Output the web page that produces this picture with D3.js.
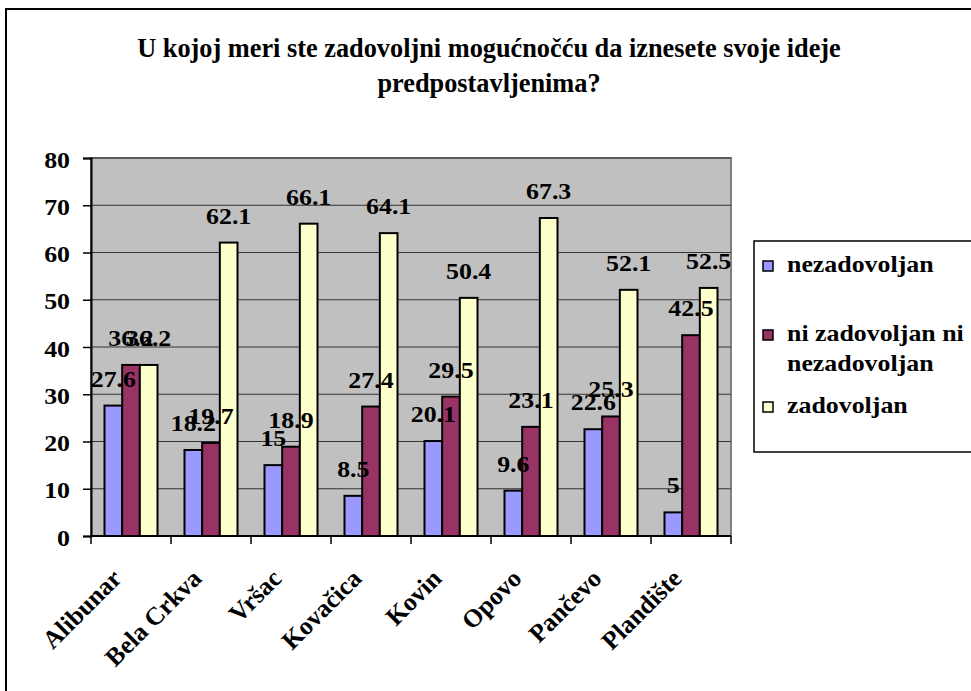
<!DOCTYPE html>
<html>
<head>
<meta charset="utf-8">
<script src="https://cdn.jsdelivr.net/npm/d3@7"></script>
<style>
  body { margin: 0; background: #fff; }
</style>
</head>
<body>
<div id="chart"></div>
<script>
const categories = ["Alibunar", "Bela Crkva", "Vršac", "Kovačica", "Kovin", "Opovo", "Pančevo", "Plandište"];
const seriesNames = ["nezadovoljan", "ni zadovoljan ni nezadovoljan", "zadovoljan"];
const nezadovoljan = [27.6, 18.2, 15, 8.5, 20.1, 9.6, 22.6, 5];
const niZadovoljanNiNezadovoljan = [36.2, 19.7, 18.9, 27.4, 29.5, 23.1, 25.3, 42.5];
const zadovoljan = [36.2, 62.1, 66.1, 64.1, 50.4, 67.3, 52.1, 52.5];
const yTicks = [0, 10, 20, 30, 40, 50, 60, 70, 80];
const titleLines = ["U kojoj meri ste zadovoljni mogućnočću da iznesete svoje ideje", "predpostavljenima?"];
const legendLines = [["nezadovoljan"], ["ni zadovoljan ni", "nezadovoljan"], ["zadovoljan"]];

const colors = ["#9999FF", "#993366", "#FFFFCC"];
const series = [nezadovoljan, niZadovoljanNiNezadovoljan, zadovoljan];

const W = 971, H = 691;
const plot = { left: 91, right: 731, top: 158, bottom: 536 };
const FONT = "Liberation Serif";
const FS = 22.5, SX = 1.15;   // text in the picture is a bit wider than tall

const svg = d3.select("#chart").append("svg")
  .attr("width", W).attr("height", H);

function txt(sel) {
  return sel.attr("font-family", FONT).attr("font-weight", "bold").attr("fill", "#000");
}

// outer frame
svg.append("rect")
  .attr("x", 6).attr("y", 9).attr("width", W + 10).attr("height", H + 10)
  .attr("fill", "#fff").attr("stroke", "#000").attr("stroke-width", 2);

// title
svg.selectAll(".title").data(titleLines).enter().append("text")
  .attr("class", "title")
  .call(txt)
  .attr("text-anchor", "middle")
  .attr("font-size", 28)
  .attr("transform", (d, i) => "translate(489," + (57 + i * 35) + ") scale(0.94,1)")
  .text(d => d);

const x0 = d3.scaleBand().domain(categories)
  .range([plot.left, plot.right])
  .paddingInner(0.3375).paddingOuter(0.16875);
const xCat = d3.scaleBand().domain(categories).range([plot.left, plot.right]);
const x1 = d3.scaleBand().domain(d3.range(series.length)).range([0, x0.bandwidth()]);
const y = d3.scaleLinear().domain([0, 80]).range([plot.bottom, plot.top]);

// plot area
svg.append("rect")
  .attr("x", plot.left).attr("y", plot.top)
  .attr("width", plot.right - plot.left).attr("height", plot.bottom - plot.top)
  .attr("fill", "#C0C0C0").attr("stroke", "#808080").attr("stroke-width", 2);

// gridlines
svg.append("g").selectAll("line").data(yTicks.slice(1)).enter().append("line")
  .attr("x1", plot.left).attr("x2", plot.right)
  .attr("y1", d => y(d)).attr("y2", d => y(d))
  .attr("stroke", "#333").attr("stroke-width", 1);

// bars
series.forEach((vals, s) => {
  svg.append("g").selectAll("rect").data(vals).enter().append("rect")
    .attr("x", (d, i) => x0(categories[i]) + x1(s))
    .attr("y", d => y(d))
    .attr("width", x1.bandwidth())
    .attr("height", d => y(0) - y(d))
    .attr("fill", colors[s])
    .attr("stroke", "#000").attr("stroke-width", 2);
});

// data labels
series.forEach((vals, s) => {
  svg.append("g").selectAll("text").data(vals).enter().append("text")
    .call(txt)
    .attr("text-anchor", "middle")
    .attr("font-size", FS)
    .attr("transform", (d, i) => "translate(" + (x0(categories[i]) + x1(s) + x1.bandwidth() / 2) + "," + (y(d) - 19) + ") scale(" + SX + ",1)")
    .text(d => d);
});

// y axis
const yAxis = svg.append("g")
  .attr("transform", "translate(" + plot.left + ",0)")
  .call(d3.axisLeft(y).tickValues(yTicks).tickSize(8).tickFormat(d3.format("d")));
yAxis.select(".domain").attr("stroke", "#000").attr("stroke-width", 2);
yAxis.selectAll(".tick line").attr("stroke", "#000").attr("stroke-width", 1.5);
yAxis.selectAll(".tick text")
  .call(txt)
  .attr("x", null).attr("dy", null)
  .attr("font-size", FS)
  .attr("text-anchor", "end")
  .attr("transform", "translate(-21,9) scale(" + SX + ",1)");

// x axis
svg.append("line")
  .attr("x1", plot.left).attr("x2", plot.right)
  .attr("y1", plot.bottom).attr("y2", plot.bottom)
  .attr("stroke", "#000").attr("stroke-width", 2);
svg.append("g").selectAll("line").data(categories.map(c => xCat(c)).concat([plot.right])).enter().append("line")
  .attr("x1", d => d).attr("x2", d => d)
  .attr("y1", plot.bottom).attr("y2", plot.bottom + 8)
  .attr("stroke", "#000").attr("stroke-width", 1.5);
svg.append("g").selectAll("text").data(categories).enter().append("text")
  .call(txt)
  .attr("text-anchor", "end")
  .attr("font-size", 25.5)
  .attr("transform", d => "translate(" + (xCat(d) + xCat.bandwidth() / 2 - 8) + ",580) rotate(-45)")
  .text(d => d);

// legend
const legend = svg.append("g");
legend.append("rect")
  .attr("x", 754).attr("y", 241).attr("width", 240).attr("height", 211)
  .attr("fill", "#fff").attr("stroke", "#000").attr("stroke-width", 1.5);
const rowY = [272, 341, 413];
legendLines.forEach((lines, s) => {
  legend.append("rect")
    .attr("x", 763).attr("y", rowY[s] - 11).attr("width", 10).attr("height", 10)
    .attr("fill", colors[s]).attr("stroke", "#000").attr("stroke-width", 1.5);
  lines.forEach((ln, k) => {
    legend.append("text")
      .call(txt)
      .attr("font-size", FS)
      .attr("transform", "translate(787," + (rowY[s] + k * 30) + ") scale(" + SX + ",1)")
      .text(ln);
  });
});
</script>
</body>
</html>
